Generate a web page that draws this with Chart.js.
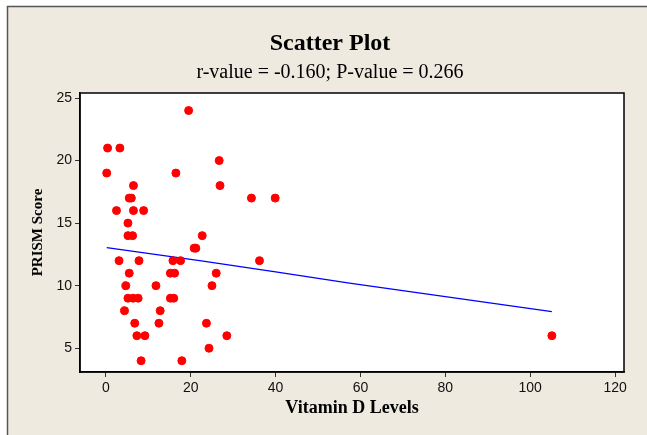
<!DOCTYPE html>
<html>
<head>
<meta charset="utf-8">
<script src="https://cdn.jsdelivr.net/npm/chart.js@4.4.1/dist/chart.umd.min.js"></script>
<style>
  html, body { margin: 0; padding: 0; background: #fff; }
  #wrap { width: 647px; height: 435px; }
</style>
</head>
<body>
<div id="wrap"><canvas id="scatter" width="647" height="435"></canvas></div>
<script>
// ── DATA ──
const VIT_D = [19.5, 0.4, 3.3, 26.7, 0.2, 16.5, 6.5, 26.9, 5.5, 6.0,
               34.3, 39.9, 2.5, 6.5, 8.9, 5.2, 5.2, 6.3, 22.7, 20.8,
               21.2, 3.1, 7.8, 15.8, 17.6, 36.2, 5.5, 15.2, 16.2, 26.0,
               4.7, 11.8, 25.0, 5.2, 6.4, 7.6, 15.2, 16.0, 4.4, 12.8,
               6.8, 12.5, 23.7, 7.3, 9.2, 28.5, 24.3, 8.3, 17.9, 105.1];
const PRISM = [24, 21, 21, 20, 19, 19, 18, 18, 17, 17,
               17, 17, 16, 16, 16, 15, 14, 14, 14, 13,
               13, 12, 12, 12, 12, 12, 11, 11, 11, 11,
               10, 10, 10, 9, 9, 9, 9, 9, 8, 8,
               7, 7, 7, 6, 6, 6, 5, 4, 4, 6];
const FIT_X = [0.2, 22.1, 40, 57.4, 105.1];
const FIT_Y = [13.04, 12.0, 11.1, 10.2, 7.93];
const X_TICKS = [0, 20, 40, 60, 80, 100, 120];
const Y_TICKS = [5, 10, 15, 20, 25];
const TITLE = 'Scatter Plot';
const SUBTITLE = 'r-value = -0.160; P-value = 0.266';

const BEIGE = '#eeeae0';
const SERIF = "'Liberation Serif', 'Times New Roman', serif";

// background, frame, plot box and the two title lines
const framePlugin = {
  id: 'frame',
  beforeDraw(chart) {
    const { ctx, chartArea: a, width, height } = chart;
    ctx.save();
    ctx.fillStyle = '#fff';
    ctx.fillRect(0, 0, width, height);
    ctx.fillStyle = BEIGE;
    ctx.fillRect(7, 6, width - 7, height - 6);
    ctx.strokeStyle = '#555';
    ctx.lineWidth = 1.5;
    ctx.beginPath();
    ctx.moveTo(7.5, height); ctx.lineTo(7.5, 6.5); ctx.lineTo(width, 6.5);
    ctx.stroke();
    ctx.fillStyle = '#fff';
    ctx.fillRect(a.left, a.top, a.right - a.left, a.bottom - a.top);
    ctx.restore();
  },
  afterDraw(chart) {
    const { ctx, chartArea: a } = chart;
    ctx.save();
    ctx.strokeStyle = '#000';
    ctx.lineWidth = 1.5;
    ctx.strokeRect(a.left, a.top, a.right - a.left, a.bottom - a.top);
    ctx.fillStyle = '#000';
    ctx.textAlign = 'center';
    ctx.textBaseline = 'alphabetic';
    ctx.font = 'bold 24px ' + SERIF;
    ctx.fillText(TITLE, 330, 50);
    ctx.font = '20px ' + SERIF;
    ctx.fillText(SUBTITLE, 330, 78);
    ctx.restore();
  }
};

const TICK_FONT = { family: "'Liberation Sans', Arial, sans-serif", size: 14 };

new Chart(document.getElementById('scatter'), {
  type: 'scatter',
  data: {
    datasets: [
      {
        label: 'Fit',
        data: FIT_X.map((x, i) => ({ x, y: FIT_Y[i] })),
        showLine: true,
        borderColor: '#0000ff',
        borderWidth: 1.2,
        pointRadius: 0,
        fill: false,
        order: 2
      },
      {
        label: 'PRISM',
        data: VIT_D.map((x, i) => ({ x, y: PRISM[i] })),
        backgroundColor: '#ff0000',
        borderColor: '#ff0000',
        borderWidth: 1,
        pointRadius: 4,
        order: 1
      }
    ]
  },
  options: {
    responsive: false,
    animation: false,
    layout: { padding: { top: 93, left: 20, right: 23, bottom: 0 } },
    plugins: {
      legend: { display: false },
      tooltip: { enabled: false },
      title: { display: false },
      subtitle: { display: false }
    },
    scales: {
      x: {
        type: 'linear', min: -6.1, max: 122.1,
        afterBuildTicks: s => { s.ticks = X_TICKS.map(v => ({ value: v })); },
        afterFit: s => { s.height = 63; },
        grid: { display: true, drawOnChartArea: false, drawTicks: true, tickLength: 5, color: '#333' },
        border: { display: true, color: '#000', width: 1.5 },
        ticks: { color: '#111', font: TICK_FONT, padding: 3, maxRotation: 0 },
        title: {
          display: true, text: 'Vitamin D Levels', color: '#000',
          font: { family: SERIF, size: 18, weight: 'bold' },
          padding: { top: 16, bottom: 16 }
        }
      },
      y: {
        type: 'linear', min: 3.1, max: 25.4,
        afterBuildTicks: s => { s.ticks = Y_TICKS.map(v => ({ value: v })); },
        afterFit: s => { s.width = 60; },
        grid: { display: true, drawOnChartArea: false, drawTicks: true, tickLength: 5, color: '#333' },
        border: { display: true, color: '#000', width: 1.5 },
        ticks: { color: '#111', font: TICK_FONT, padding: 3 },
        title: {
          display: true, text: 'PRISM Score', color: '#000',
          font: { family: SERIF, size: 15, weight: 'bold' },
          padding: { top: 9, bottom: 0 }
        }
      }
    }
  },
  plugins: [framePlugin]
});
</script>
</body>
</html>
